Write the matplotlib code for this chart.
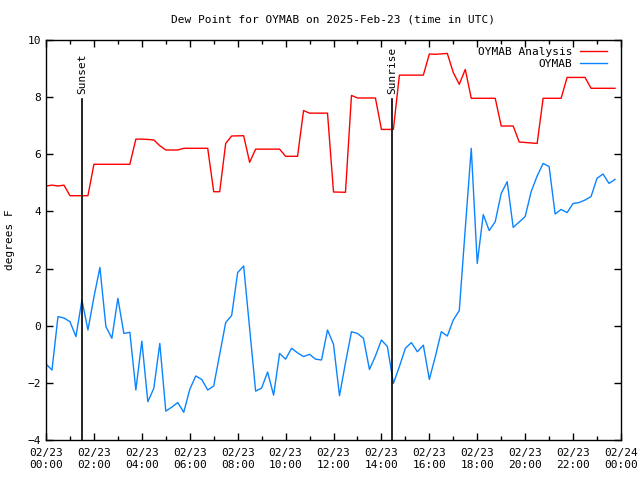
import numpy as np
from matplotlib import pyplot as plt
from matplotlib.ticker import MultipleLocator

# analysis series, breakpoints (hours since 02/23 00:00 UTC, degrees F)
analysis_hours = [0.0, 0.25, 0.5, 0.75, 1.0, 1.75, 2.0, 3.5, 3.75, 4.0, 4.25, 4.5,
                  4.75, 5.0, 5.5, 5.75, 6.75, 7.0, 7.25, 7.5, 7.75, 8.25, 8.5,
                  8.75, 9.75, 10.0, 10.5, 10.75, 11.0, 11.75, 12.0, 12.5, 12.75,
                  13.0, 13.75, 14.0, 14.5, 14.75, 15.75, 16.0, 16.25, 16.75, 17.0,
                  17.25, 17.5, 17.75, 18.75, 19.0, 19.5, 19.75, 20.5, 20.75, 21.5,
                  21.75, 22.5, 22.75, 23.75]
analysis_vals = [4.89, 4.92, 4.89, 4.92, 4.55, 4.55, 5.65, 5.65, 6.53, 6.53, 6.52, 6.50,
                 6.30, 6.15, 6.15, 6.21, 6.21, 4.69, 4.69, 6.38, 6.64, 6.65, 5.72,
                 6.18, 6.18, 5.93, 5.93, 7.53, 7.44, 7.44, 4.68, 4.67, 8.06,
                 7.97, 7.97, 6.87, 6.87, 8.77, 8.77, 9.51, 9.50, 9.53, 8.86,
                 8.45, 8.97, 7.96, 7.96, 6.99, 6.99, 6.43, 6.38, 7.96, 7.96,
                 8.69, 8.69, 8.31, 8.31]

# observations every 15 minutes
obs_vals = [-1.34, -1.55, 0.32, 0.27, 0.14, -0.38, 0.90, -0.15,
            1.00, 2.04, -0.03, -0.44, 0.96, -0.27, -0.23, -2.25,
            -0.54, -2.66, -2.19, -0.62, -2.99, -2.85, -2.69, -3.03,
            -2.23, -1.76, -1.88, -2.25, -2.11, -1.00, 0.11, 0.36,
            1.86, 2.09, -0.10, -2.29, -2.18, -1.62, -2.43, -0.97,
            -1.17, -0.79, -0.95, -1.08, -1.00, -1.17, -1.20, -0.15,
            -0.65, -2.45, -1.30, -0.21, -0.27, -0.44, -1.53, -1.06,
            -0.50, -0.73, -2.02, -1.43, -0.79, -0.59, -0.91, -0.68,
            -1.88, -1.08, -0.21, -0.36, 0.20, 0.53, 3.40, 6.21,
            2.18, 3.89, 3.33, 3.64, 4.63, 5.04, 3.44, 3.63,
            3.82, 4.69, 5.24, 5.68, 5.57, 3.91, 4.07, 3.96,
            4.28, 4.31, 4.40, 4.52, 5.16, 5.31, 4.98, 5.12]
obs_hours = np.arange(len(obs_vals)) * 0.25

sunset_hour = 1.5
sunrise_hour = 14.45

tick_hours = list(range(0, 25, 2))
tick_labels = ["02/23\n%02d:00" % h for h in range(0, 24, 2)] + ["02/24\n00:00"]

plt.rcParams["font.family"] = "DejaVu Sans Mono"
plt.rcParams["font.size"] = 8

fig = plt.figure(figsize=(6.4, 4.8), dpi=100)
ax = fig.add_axes([46 / 640, 40 / 480, 575 / 640, 400 / 480])

ax.plot(analysis_hours, analysis_vals, color="#ff0000", lw=1.0, label="OYMAB Analysis")
ax.plot(obs_hours, obs_vals, color="#0a84ff", lw=1.0, label="OYMAB")

for h, name in [(sunset_hour, "Sunset"), (sunrise_hour, "Sunrise")]:
    ax.plot([h, h], [-4, 7.93], color="black", lw=1.2)
    ax.text(h, 8.1, name, rotation=90, ha="center", va="bottom", fontsize=8)

ax.set_xlim(0, 24)
ax.set_ylim(-4, 10)
ax.set_xticks(tick_hours)
ax.set_xticklabels(tick_labels)
ax.xaxis.set_minor_locator(MultipleLocator(1))
ax.yaxis.set_major_locator(MultipleLocator(2))
ax.tick_params(which="both", direction="in", top=True, right=True, width=1.0)
ax.tick_params(which="major", length=5)
ax.tick_params(which="minor", length=3)
ax.tick_params(axis="x", pad=6)
for spine in ax.spines.values():
    spine.set_linewidth(1.0)

fig.text(333 / 640, 1 - 20 / 480, "Dew Point for OYMAB on 2025-Feb-23 (time in UTC)",
         ha="center", va="center", fontsize=8)
fig.text(10 / 640, 1 - 240 / 480, "degrees F", rotation=90,
         ha="center", va="center", fontsize=8)

ax.legend(loc="upper right", markerfirst=False, frameon=False, fontsize=8,
          handlelength=2.4, handletextpad=0.7, borderaxespad=0.0, labelspacing=0.15,
          bbox_to_anchor=(0.983, 0.994))

fig.savefig("out.png", dpi=100)
